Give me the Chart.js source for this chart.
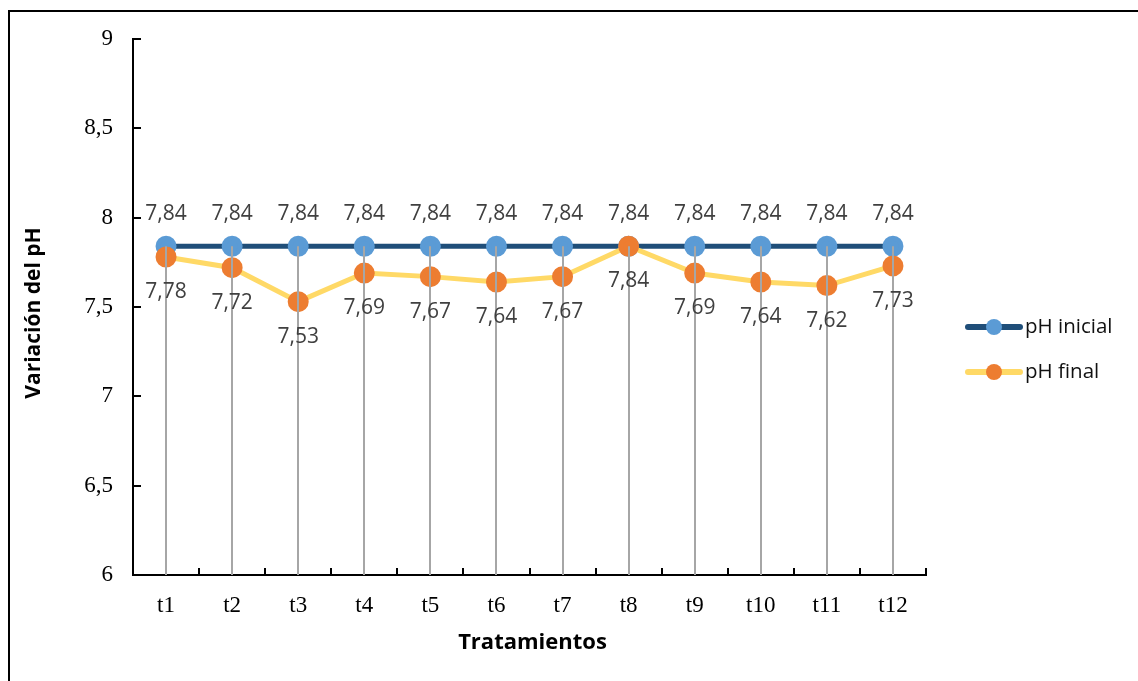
<!DOCTYPE html>
<html lang="es">
<head>
<meta charset="utf-8">
<title>Variación del pH</title>
<script src="https://cdn.jsdelivr.net/npm/chart.js@4.4.1/dist/chart.umd.min.js"></script>
<style>
  html, body { margin: 0; padding: 0; background: #ffffff; }
  #wrap { width: 1138px; height: 681px; }
</style>
</head>
<body>
<div id="wrap"><canvas id="chart" width="1138" height="681"></canvas></div>
<script>
// Treatments and measured pH values
const categories = ['t1', 't2', 't3', 't4', 't5', 't6', 't7', 't8', 't9', 't10', 't11', 't12'];
const phInicial = [7.84, 7.84, 7.84, 7.84, 7.84, 7.84, 7.84, 7.84, 7.84, 7.84, 7.84, 7.84];
const phFinal = [7.78, 7.72, 7.53, 7.69, 7.67, 7.64, 7.67, 7.84, 7.69, 7.64, 7.62, 7.73];
const yTicks = [6, 6.5, 7, 7.5, 8, 8.5, 9];
const seriesNames = ['pH inicial', 'pH final'];
const xTitle = 'Tratamientos';
const yTitle = 'Variación del pH';

const fmt = v => String(v).replace('.', ',');

const COLORS = {
  iniLine: '#1F4E79', iniPoint: '#5B9BD5',
  finLine: '#FFD966', finPoint: '#ED7D31',
  drop: '#A6A6A6', label: '#404040'
};

// Outer frame, drop lines, inside tick marks, value labels, titles and legend
const decorations = {
  id: 'decorations',
  afterDatasetsDraw(chart) {
    const { ctx, chartArea, scales: { x, y } } = chart;
    ctx.save();

    // drop lines from the highest point of each category to the axis
    ctx.strokeStyle = COLORS.drop;
    ctx.lineWidth = 2;
    categories.forEach((c, i) => {
      const top = y.getPixelForValue(Math.max(phInicial[i], phFinal[i]));
      const px = Math.round(x.getPixelForValue(i));
      ctx.beginPath();
      ctx.moveTo(px, top);
      ctx.lineTo(px, chartArea.bottom);
      ctx.stroke();
    });

    // inside tick marks
    ctx.strokeStyle = '#000';
    ctx.lineWidth = 2;
    yTicks.forEach(v => {
      const py = Math.round(y.getPixelForValue(v));
      ctx.beginPath();
      ctx.moveTo(chartArea.left, py);
      ctx.lineTo(chartArea.left + 8, py);
      ctx.stroke();
    });
    for (let i = 0; i <= categories.length; i++) {
      let px;
      if (i === 0) px = chartArea.left;
      else if (i === categories.length) px = chartArea.right;
      else px = (x.getPixelForValue(i - 1) + x.getPixelForValue(i)) / 2;
      px = Math.round(px);
      ctx.beginPath();
      ctx.moveTo(px, chartArea.bottom);
      ctx.lineTo(px, chartArea.bottom - 7);
      ctx.stroke();
    }

    // value labels
    ctx.font = '21px "Open Sans"';
    ctx.fillStyle = COLORS.label;
    ctx.textAlign = 'center';
    ctx.textBaseline = 'middle';
    const metaIni = chart.getDatasetMeta(0);
    const metaFin = chart.getDatasetMeta(1);
    metaIni.data.forEach((pt, i) => {
      ctx.fillText(fmt(phInicial[i]), pt.x, pt.y - 32);
    });
    metaFin.data.forEach((pt, i) => {
      ctx.fillText(fmt(phFinal[i]), pt.x, pt.y + 35);
    });

    // axis titles
    ctx.fillStyle = '#000';
    ctx.font = 'bold 22px "Open Sans"';
    ctx.fillText(xTitle, (chartArea.left + chartArea.right) / 2 + 3, 643);
    ctx.save();
    ctx.font = 'bold 21px "Open Sans"';
    ctx.translate(34, 313);
    ctx.rotate(-Math.PI / 2);
    ctx.fillText(yTitle, 0, 0);
    ctx.restore();

    // legend
    const legendItems = [
      { y: 327, line: COLORS.iniLine, point: COLORS.iniPoint },
      { y: 372, line: COLORS.finLine, point: COLORS.finPoint }
    ];
    legendItems.forEach((it, k) => {
      ctx.strokeStyle = it.line;
      ctx.lineWidth = 6;
      ctx.lineCap = 'round';
      ctx.beginPath();
      ctx.moveTo(968, it.y);
      ctx.lineTo(1020, it.y);
      ctx.stroke();
      ctx.fillStyle = it.point;
      ctx.beginPath();
      ctx.arc(994, it.y, 8, 0, Math.PI * 2);
      ctx.fill();
      ctx.fillStyle = '#111';
      ctx.font = '20.5px "Open Sans"';
      ctx.textAlign = 'left';
      ctx.fillText(seriesNames[k], 1025, it.y);
    });

    // outer frame
    ctx.strokeStyle = '#000';
    ctx.lineWidth = 2;
    ctx.lineCap = 'butt';
    ctx.beginPath();
    ctx.moveTo(9, 681);
    ctx.lineTo(9, 11);
    ctx.lineTo(1138, 11);
    ctx.stroke();

    ctx.restore();
  }
};

new Chart(document.getElementById('chart'), {
  type: 'line',
  data: {
    labels: categories,
    datasets: [
      {
        label: seriesNames[0],
        data: phInicial,
        borderColor: COLORS.iniLine,
        backgroundColor: COLORS.iniPoint,
        pointBackgroundColor: COLORS.iniPoint,
        pointBorderColor: COLORS.iniPoint,
        borderWidth: 5,
        pointRadius: 8,
        pointHoverRadius: 8,
        tension: 0,
        order: 1
      },
      {
        label: seriesNames[1],
        data: phFinal,
        borderColor: COLORS.finLine,
        backgroundColor: COLORS.finPoint,
        pointBackgroundColor: COLORS.finPoint,
        pointBorderColor: COLORS.finPoint,
        borderWidth: 5,
        pointRadius: 8,
        pointHoverRadius: 8,
        tension: 0,
        order: 0
      }
    ]
  },
  options: {
    responsive: false,
    animation: false,
    devicePixelRatio: 1,
    layout: { padding: { top: 39, right: 212, left: 0, bottom: 0 } },
    plugins: { legend: { display: false }, tooltip: { enabled: false } },
    scales: {
      x: {
        type: 'category',
        offset: true,
        grid: { display: false, drawTicks: false },
        border: { display: true, color: '#000', width: 2 },
        ticks: {
          color: '#000',
          font: { family: '"Liberation Serif"', size: 23 },
          padding: 17,
          maxRotation: 0
        },
        afterFit(s) { s.height = 106; }
      },
      y: {
        min: 6,
        max: 9,
        grid: { display: false, drawTicks: false },
        border: { display: true, color: '#000', width: 2 },
        afterBuildTicks(s) { s.ticks = yTicks.map(v => ({ value: v })); },
        ticks: {
          color: '#000',
          font: { family: '"Liberation Serif"', size: 23 },
          padding: 20,
          callback: v => fmt(v)
        },
        afterFit(s) { s.width = 133; }
      }
    }
  },
  plugins: [decorations]
});
</script>
</body>
</html>
